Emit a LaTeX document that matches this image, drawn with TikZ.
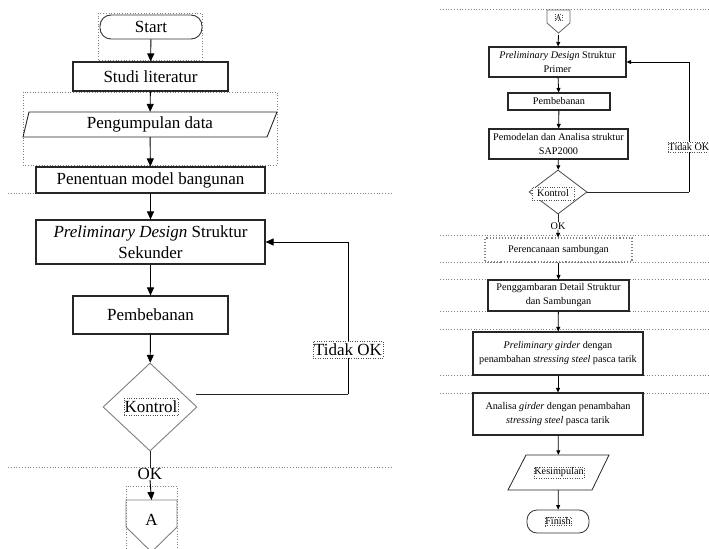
\documentclass[tikz,border=0pt]{standalone}
\usepackage{fontspec}
\setmainfont{Liberation Serif}
\usetikzlibrary{shapes.geometric,arrows.meta}
\begin{document}
\begin{tikzpicture}[x=1bp,y=-1bp,
  bigf/.style={font=\fontsize{17bp}{21bp}\selectfont},
  smf/.style={font=\fontsize{10.2bp}{14bp}\selectfont},
  procbox/.style={draw=black!85, line width=1.1bp, fill=white, inner sep=0pt, align=center},
  frame/.style={draw=gray, dotted, line width=0.7bp},
  sepline/.style={gray, dotted, line width=0.8bp},
  conn/.style={black!85, line width=0.9bp},
  arrL/.style={-{Triangle[length=8bp,width=7bp]}, line width=0.9bp},
  arrS/.style={-{Triangle[length=4.5bp,width=4bp]}, line width=0.8bp},
  lbl/.style={draw=black!70, dotted, fill=white, inner sep=1bp},
  ]
\useasboundingbox[fill=white] (0,0) rectangle (709,549);

% ---------------- left column ----------------
\draw[sepline] (8,193) -- (393,193);
\draw[sepline] (8,467) -- (393,467);

\draw[frame] (98,13) rectangle (202,60);
\node[bigf, draw=black!80, line width=0.9bp, rounded corners=11bp, minimum width=102bp, minimum height=24bp, inner sep=0] (start) at (151,27) {Start};
\node[procbox,bigf,minimum width=155bp,minimum height=29bp] (studi) at (150.5,76.5) {Studi literatur};
\draw[frame] (23,92) rectangle (277,165);
\draw[black!85, line width=0.9bp, fill=white] (29,112) -- (277,112) -- (267,137) -- (23,137) -- cycle;
\node[bigf, minimum width=238bp, minimum height=25bp, inner sep=0] (data) at (150,124.5) {Pengumpulan data};
\node[procbox,bigf,minimum width=229bp,minimum height=26bp] (model) at (150.5,180) {Penentuan model bangunan};
\node[procbox,bigf,minimum width=229bp,minimum height=44bp] (pd) at (150.5,242) {\textit{Preliminary Design} Struktur\\Sekunder};
\node[procbox,bigf,minimum width=155bp,minimum height=38bp] (pemb) at (150.5,315) {Pembebanan};
\node[diamond, draw=gray, line width=0.9bp, minimum width=94bp, minimum height=88bp, inner sep=0] (dia) at (150,407) {};
\node[lbl,bigf,minimum width=54bp,minimum height=17bp,inner sep=0] (kon) at (151,406.5) {Kontrol};

\draw[arrL] (start) -- (studi);
\draw[arrL] (studi) -- (data);
\draw[arrL] (data) -- (model);
\draw[arrL] (model) -- (pd);
\draw[arrL] (pd) -- (pemb);
\draw[arrL] (pemb) -- (dia);

\coordinate (t1) at (196,394);
\coordinate (t2) at (348,394);
\draw[conn] (t1) -- (t2);
\draw[arrL] (t2) |- (pd.east);
\node[lbl,bigf,minimum width=70bp,minimum height=17bp,inner sep=0] (tok) at (348,349.5) {Tidak OK};

\node[bigf, inner sep=0] (ok) at (150,474) {OK};
\draw[conn] (dia.south) -- (ok.north);

\draw[frame] (126,486) rectangle (177,556);
\draw[gray, line width=0.9bp] (126,500) -- (177,500) -- (177,527) -- (151.5,552) -- (126,527) -- cycle;
\node[bigf, inner sep=0] (offa) at (151.5,520) {A};
\coordinate (offatop) at (151.5,500);
\draw[arrL] (ok.south) -- (offatop);

% ---------------- right column ----------------
\foreach \yy in {9,235,262,279,311,329,375,393} \draw[sepline] (440,\yy) -- (709,\yy);

\draw[gray!80!black, line width=0.8bp] (547,10) -- (570,10) -- (570,23) -- (558.5,33) -- (547,23) -- cycle;
\node[lbl, inner sep=0.5bp, font=\fontsize{8bp}{9bp}\selectfont] (offb) at (558.5,17.5) {A};
\coordinate (offbbot) at (558.5,35);

\node[procbox,smf,minimum width=137bp,minimum height=30bp] (pdp) at (557.5,62) {\textit{Preliminary Design} Struktur\\Primer};
\node[procbox,smf,minimum width=102bp,minimum height=17bp] (pemb2) at (559,101.5) {Pembebanan};
\node[procbox,smf,minimum width=139bp,minimum height=30bp] (pemod) at (558.5,144) {Pemodelan dan Analisa struktur\\SAP2000};
\node[diamond, draw=black!70, line width=0.8bp, minimum width=58bp, minimum height=44bp, inner sep=0] (dia2) at (558,192) {};
\node[lbl,smf,minimum width=42bp,minimum height=13bp,inner sep=0] (kon2) at (553,193.5) {Kontrol};

\draw[arrS] (offbbot) -- (pdp);
\draw[arrS] (pdp) -- (pemb2);
\draw[arrS] (pemb2) -- (pemod);
\draw[arrS] (pemod) -- (dia2);

\coordinate (r2) at (689,192);
\draw[conn, line width=0.8bp] (dia2.east) -- (r2);
\draw[arrS] (r2) |- (pdp.east);
\node[lbl,smf,minimum width=42bp,minimum height=10bp,inner sep=0] (tok2) at (689,147.5) {Tidak OK};

\node[smf, inner sep=0] (ok2) at (558,226) {OK};
\draw[conn, line width=0.8bp] (dia2.south) -- (ok2.north);

\node[smf, draw=gray, dotted, line width=1.1bp, fill=white, minimum width=147bp, minimum height=24bp, inner sep=0] (perenc) at (558.5,250) {Perencanaan sambungan};
\node[procbox,smf,minimum width=141bp,minimum height=31bp] (pengg) at (558.5,295.5) {Penggambaran Detail Struktur\\dan Sambungan};
\node[procbox,smf,minimum width=170bp,minimum height=43bp] (prelg) at (558,353.5) {\textit{Preliminary girder} dengan\\penambahan \textit{stressing steel} pasca tarik};
\node[procbox,smf,minimum width=170bp,minimum height=42bp] (anal) at (558,414) {Analisa \textit{girder} dengan penambahan\\\textit{stressing steel} pasca tarik};

\draw[black!85, line width=0.8bp] (526,455) -- (609,455) -- (592,490) -- (508,490) -- cycle;
\node[minimum width=84bp, minimum height=35bp, inner sep=0] (kes) at (558.5,472.5) {};
\node[lbl,smf,minimum width=50bp,minimum height=11bp,inner sep=0] (keslbl) at (559,472.5) {Kesimpulan};

\node[draw=black!80, line width=0.8bp, rounded corners=10bp, minimum width=62bp, minimum height=23bp, inner sep=0] (fin) at (558,521.5) {};
\node[lbl,smf,inner sep=0.5bp] (finlbl) at (558,521.5) {Finish};

\draw[arrS] (ok2.south) -- (perenc);
\draw[arrS] (perenc) -- (pengg);
\draw[arrS] (pengg) -- (prelg);
\draw[arrS] (prelg) -- (anal);
\draw[arrS] (anal) -- (kes);
\draw[arrS] (kes) -- (fin);
\end{tikzpicture}
\end{document}
